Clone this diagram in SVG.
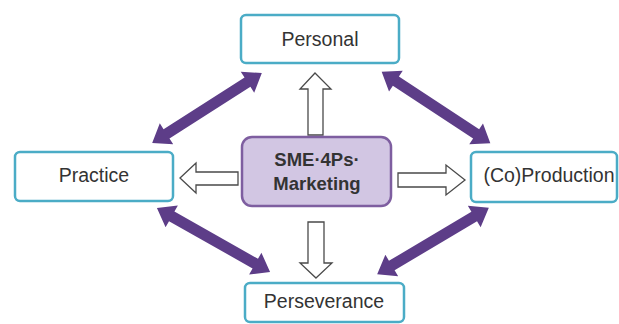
<svg xmlns="http://www.w3.org/2000/svg" xmlns:xlink="http://www.w3.org/1999/xlink" width="619" height="324" viewBox="0 0 619 324">
<style>
.box{fill:#ffffff;stroke:#4bacc6;stroke-width:2.5}
.center{fill:#d2c6e3;stroke:#7e5ea0;stroke-width:2.5}
.lbl{font-family:"Liberation Sans",Arial,sans-serif;font-size:19.5px;fill:#333333;text-anchor:middle}
.bold{font-weight:bold;font-size:18.5px}
.hollow{fill:#ffffff;stroke:#4a4a4a;stroke-width:1.3;stroke-linejoin:miter}
.dbl{fill:#5d3d88}
</style>
<defs>
<polygon id="dblarrow" points="-65,0 -48,-12.5 -48,-5.5 48,-5.5 48,-12.5 65,0 48,12.5 48,5.5 -48,5.5 -48,12.5"/>
</defs>
<rect width="619" height="324" fill="#ffffff"/>
<g id="connectors">
<use xlink:href="#dblarrow" href="#dblarrow" class="dbl" transform="translate(207,108) rotate(-32.5)"/>
<use xlink:href="#dblarrow" href="#dblarrow" class="dbl" transform="translate(436,107.5) rotate(33.3)"/>
<use xlink:href="#dblarrow" href="#dblarrow" class="dbl" transform="translate(213.5,240) rotate(29.5)"/>
<use xlink:href="#dblarrow" href="#dblarrow" class="dbl" transform="translate(433,241) rotate(-30.8)"/>
<polygon class="hollow" points="315,73 331,89 323,89 323,135 308,135 308,89 300,89"/>
<polygon class="hollow" points="180,178 196,163 196,172 238,172 238,185 196,185 196,193"/>
<polygon class="hollow" points="465,180 446,165 446,173 398,173 398,187 446,187 446,195"/>
<polygon class="hollow" points="316,278 332,263 324,263 324,222 308,222 308,263 300,263"/>
</g>
<g id="personal">
<rect class="box" x="241" y="15" width="158" height="48" rx="5"/>
<text class="lbl" x="320" y="46">Personal</text>
</g>
<g id="practice">
<rect class="box" x="15" y="152" width="158" height="49" rx="5"/>
<text class="lbl" x="94" y="182">Practice</text>
</g>
<g id="coproduction">
<rect class="box" x="471" y="152" width="146" height="50" rx="5"/>
<text class="lbl" x="549" y="182">(Co)Production</text>
</g>
<g id="perseverance">
<rect class="box" x="245" y="283" width="159" height="39" rx="5"/>
<text class="lbl" x="324" y="308">Perseverance</text>
</g>
<g id="sme4ps">
<rect class="center" x="242" y="137" width="149" height="69" rx="10"/>
<text class="lbl bold" x="317" y="166">SME·4Ps·</text>
<text class="lbl bold" x="317" y="190">Marketing</text>
</g>
</svg>
